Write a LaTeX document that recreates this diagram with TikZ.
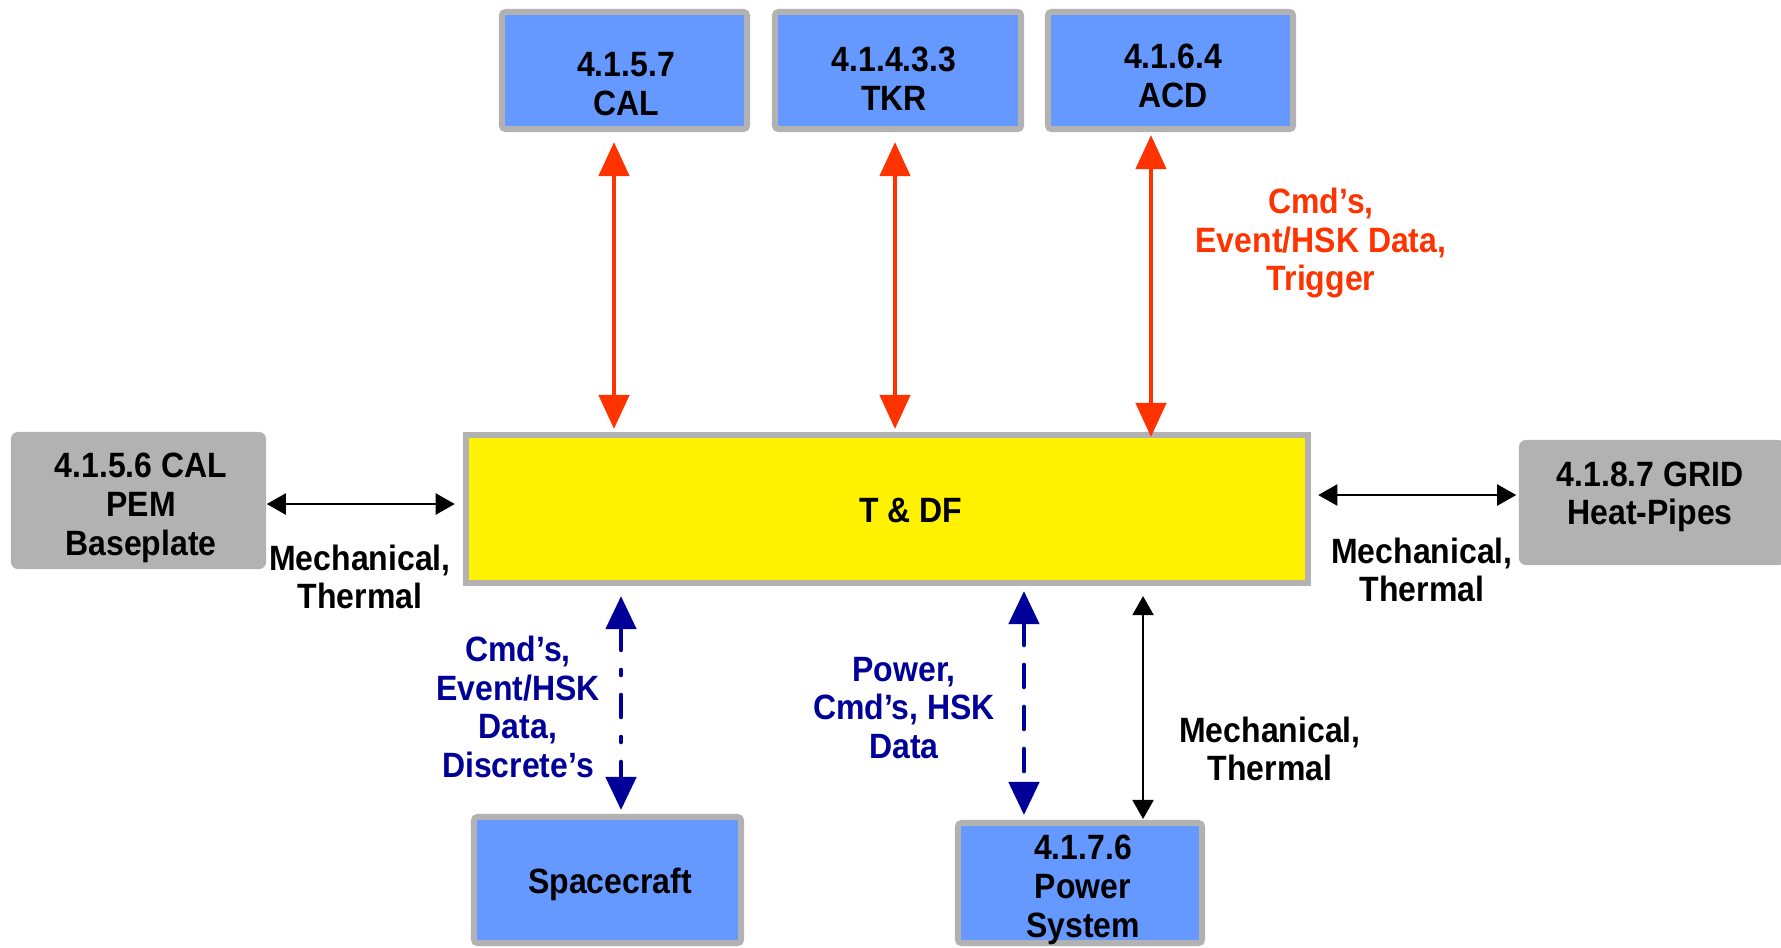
\documentclass[tikz,border=0pt]{standalone}
\usepackage{fontspec}
\setmainfont{Liberation Sans}[FakeStretch=0.91]
\usepackage{tikz}
\usetikzlibrary{arrows.meta, positioning}

\definecolor{unitblue}{HTML}{6699FF}
\definecolor{boxgray}{HTML}{B2B2B2}
\definecolor{sigred}{HTML}{FF3300}
\definecolor{cmdblue}{HTML}{000099}

\tikzset{
    unit/.style={draw=boxgray, line width=0.06cm, fill=unitblue, rounded corners=1pt},
    extunit/.style={fill=boxgray, rounded corners=2pt},
    lbl/.style={font=\fontsize{10}{11}\selectfont\bfseries, align=center, inner sep=0pt},
    datalink/.style={draw=sigred, line width=0.045cm,
        {Triangle[width=0.3cm,length=0.34cm]}-{Triangle[width=0.3cm,length=0.34cm]}},
    mechlink/.style={draw=black, line width=0.6pt,
        {Triangle[width=0.21cm,length=0.19cm]}-{Triangle[width=0.21cm,length=0.19cm]}},
    cmdlink/.style={draw=cmdblue, line width=0.046cm, line cap=round,
        {Triangle[width=0.3cm,length=0.33cm]}-{Triangle[width=0.3cm,length=0.33cm]}}
}

\begin{document}
\begin{tikzpicture}[x=0.01cm, y=-0.01cm]
    \useasboundingbox (0,0) rectangle (1781,947);

    % Subsystems on top
    \node[unit, minimum width=2.45cm, minimum height=1.17cm] (cal) at (624.5,70.5) {};
    \node[unit, minimum width=2.46cm, minimum height=1.17cm] (tkr) at (898,70.5) {};
    \node[unit, minimum width=2.45cm, minimum height=1.17cm] (acd) at (1170.5,70.5) {};
    \node[lbl] (caltxt) at (626,84) {4.1.5.7\\CAL};
    \node[lbl] (tkrtxt) at (894,79) {4.1.4.3.3\\TKR};
    \node[lbl] (acdtxt) at (1173,76) {4.1.6.4\\ACD};

    % Central unit
    \node[draw=boxgray, line width=0.06cm, fill=yellow, minimum width=8.42cm, minimum height=1.48cm] (tdf) at (887,509) {};
    \node[lbl] (tdftxt) at (911,510) {T \& DF};

    % Mechanical neighbours
    \node[extunit, minimum width=2.55cm, minimum height=1.37cm] (pem) at (138.5,500.5) {};
    \node[lbl] (pemtxt) at (141,508) {4.1.5.6 CAL\\PEM\\Baseplate};
    \node[extunit, minimum width=2.66cm, minimum height=1.25cm] (grid) at (1652,502.5) {};
    \node[lbl] (gridtxt) at (1650,497) {4.1.8.7 GRID\\Heat-Pipes};

    % Bottom units
    \node[unit, minimum width=2.67cm, minimum height=1.26cm] (sc) at (607.5,880) {};
    \node[lbl] (sctxt) at (610,884) {Spacecraft};
    \node[unit, minimum width=2.44cm, minimum height=1.20cm] (pwr) at (1080,883) {};
    \node[lbl] (pwrtxt) at (1083,890) {4.1.7.6\\Power\\System};

    % Event data links
    \draw[datalink] ([xshift=-1.05mm,yshift=-1mm]cal.south) -- ([xshift=-1.05mm,yshift=0.3mm]cal.south |- tdf.north);
    \draw[datalink] ([xshift=-0.3mm,yshift=-1mm]tkr.south) -- ([xshift=-0.3mm,yshift=0.3mm]tkr.south |- tdf.north);
    \draw[datalink] ([xshift=-1.95mm,yshift=-0.3mm]acd.south) -- ([xshift=-1.95mm,yshift=-0.5mm]acd.south |- tdf.north);
    \node[lbl, text=sigred] (evtxt) at (1321,243) {Cmd’s,\\Event/HSK Data,\\Trigger};

    % Mechanical, thermal links
    \draw[mechlink] ([yshift=-0.35mm]pem.east) -- ([xshift=-0.8mm,yshift=-0.35mm]pem.east -| tdf.west);
    \draw[mechlink] ([xshift=0.7mm,yshift=0.75mm]grid.west -| tdf.east) -- ([xshift=-0.2mm,yshift=0.75mm]grid.west);
    \draw[mechlink] ([xshift=6.3mm,yshift=-1mm]pwr.north |- tdf.south) -- ([xshift=6.3mm,yshift=0.1mm]pwr.north);
    \node[lbl] (mechl) at (360,577) {Mechanical,\\Thermal};
    \node[lbl] (mechr) at (1422,570) {Mechanical,\\Thermal};
    \node[lbl] (mechb) at (1270,749) {Mechanical,\\Thermal};

    % Spacecraft and power links
    \draw[cmdlink, dash pattern=on 0.22cm off 0.2cm on 0.05cm off 0.2cm] ([xshift=1.35mm,yshift=-1mm]sc.north |- tdf.south) -- ([xshift=1.35mm,yshift=0.4mm]sc.north);
    \draw[cmdlink, dash pattern=on 0.22cm off 0.2cm] ([xshift=-5.6mm,yshift=-0.5mm]pwr.north |- tdf.south) -- ([xshift=-5.6mm,yshift=0.5mm]pwr.north);
    \node[lbl, text=cmdblue] (sctxt2) at (518,707) {Cmd’s,\\Event/HSK\\Data,\\Discrete’s};
    \node[lbl, text=cmdblue] (pwrtxt2) at (904,708) {Power,\\Cmd’s, HSK\\Data};
\end{tikzpicture}
\end{document}
